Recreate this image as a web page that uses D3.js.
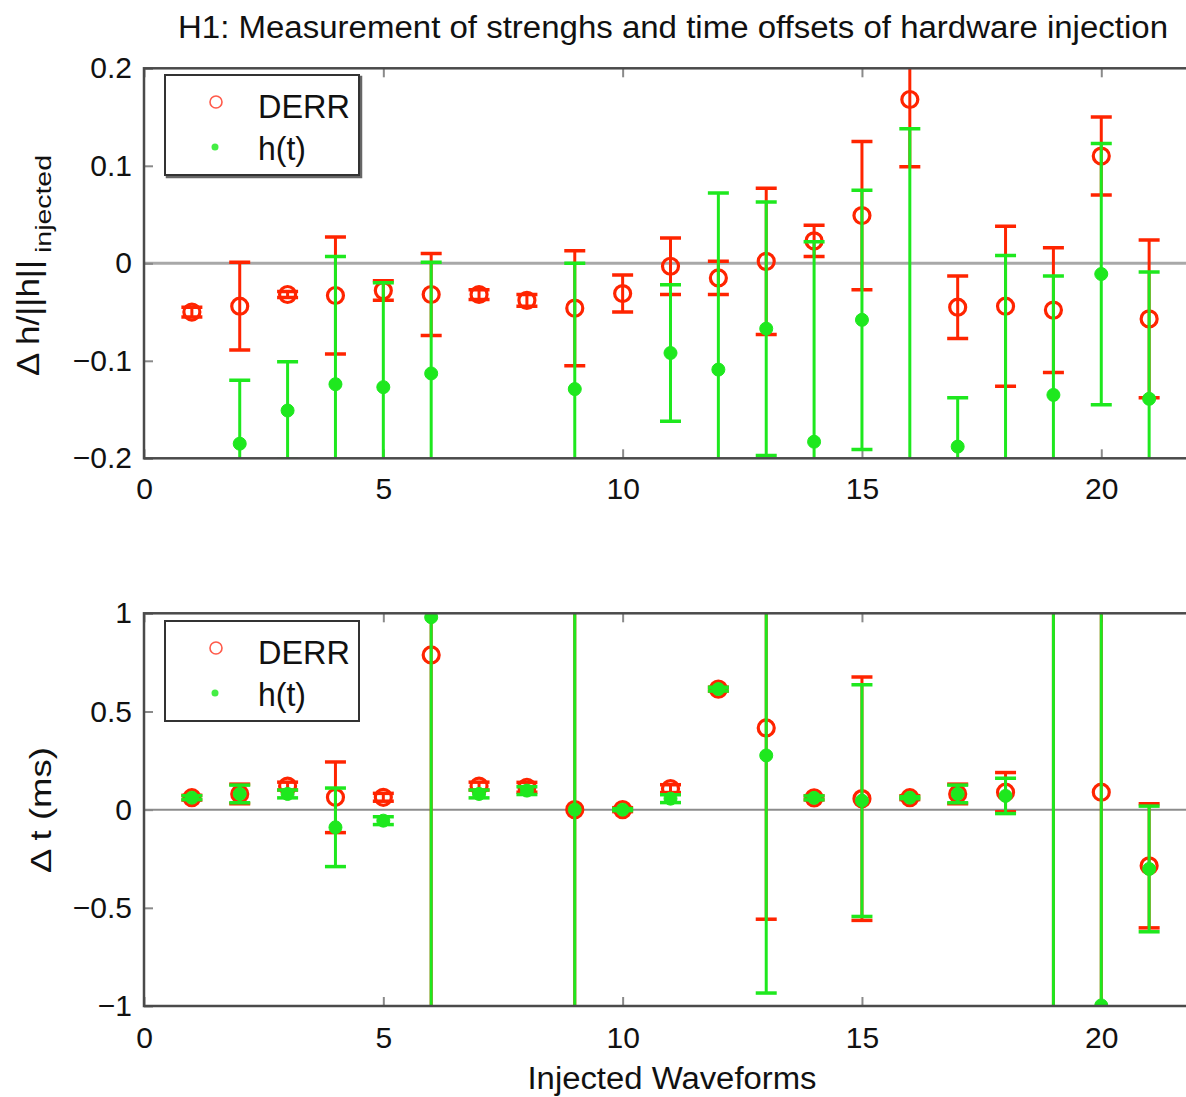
<!DOCTYPE html>
<html>
<head>
<meta charset="utf-8">
<script src="https://cdn.jsdelivr.net/npm/d3@7"></script>
<style>
  body { margin: 0; background: #fff; }
  text { font-family: 'Liberation Sans', Arial, sans-serif; fill: #111; }
</style>
</head>
<body>
<div id="chart"></div>
<script>
// injection index on the x axis
const waveforms = [1, 2, 3, 4, 5, 6, 7, 8, 9, 10, 11, 12, 13, 14, 15, 16, 17, 18, 19, 20, 21];

// top panel: relative strength  Δh/||h||
const derrStrength    = [-0.050, -0.044, -0.032, -0.033, -0.028, -0.032, -0.032, -0.038, -0.046, -0.031, -0.003, -0.015, 0.002, 0.023, 0.049, 0.168, -0.045, -0.044, -0.048, 0.110, -0.057];
const derrStrengthErr = [0.005, 0.045, 0.003, 0.060, 0.010, 0.042, 0.005, 0.006, 0.059, 0.019, 0.029, 0.017, 0.075, 0.016, 0.076, 0.069, 0.032, 0.082, 0.064, 0.040, 0.081];
const htStrength      = [null, -0.185, -0.151, -0.124, -0.127, -0.113, null, null, -0.129, null, -0.092, -0.109, -0.067, -0.183, -0.058, -0.230, -0.188, -0.220, -0.135, -0.011, -0.139];
const htStrengthErr   = [null, 0.065, 0.050, 0.131, 0.107, 0.114, null, null, 0.129, null, 0.070, 0.181, 0.130, 0.205, 0.133, 0.368, 0.050, 0.228, 0.122, 0.134, 0.130];

// bottom panel: time offset Δt (ms)
const derrOffset    = [0.061, 0.080, 0.120, 0.063, 0.063, 0.788, 0.120, 0.114, 0.000, 0.000, 0.107, 0.614, 0.416, 0.060, 0.056, 0.061, 0.080, 0.089, 1.400, 0.089, -0.286];
const derrOffsetErr = [0.012, 0.050, 0.020, 0.180, 0.020, 3.000, 0.020, 0.025, 3.000, 0.010, 0.020, 0.010, 0.974, 0.010, 0.620, 0.010, 0.050, 0.100, 3.000, 3.000, 0.316];
const htOffset      = [0.061, 0.080, 0.080, -0.090, -0.056, 0.980, 0.080, 0.097, 0.000, 0.000, 0.056, 0.614, 0.276, 0.060, 0.046, 0.061, 0.080, 0.070, 1.400, -0.997, -0.302];
const htOffsetErr   = [0.010, 0.045, 0.020, 0.200, 0.020, 3.000, 0.020, 0.020, 3.000, 0.005, 0.020, 0.010, 1.210, 0.010, 0.590, 0.005, 0.045, 0.090, 3.000, 3.000, 0.320];

const waveformTicks = [0, 5, 10, 15, 20];
const strengthTicks = [-0.2, -0.1, 0, 0.1, 0.2];
const offsetTicks   = [-1, -0.5, 0, 0.5, 1];
const seriesNames   = ['DERR', 'h(t)'];

const RED = '#ff2400';
const GREEN = '#1ee81e';
const W = 1186, H = 1097;

const svg = d3.select('#chart').append('svg')
  .attr('width', W)
  .attr('height', H);

svg.append('rect').attr('width', W).attr('height', H).attr('fill', '#fff');

// x runs past the right edge of the picture, like the original crop
const x = d3.scaleLinear().domain([0, 22]).range([144, 1197]);

svg.append('text')
  .attr('x', 178).attr('y', 38)
  .attr('font-size', 31)
  .attr('textLength', 990)
  .attr('lengthAdjust', 'spacingAndGlyphs')
  .text('H1: Measurement of strenghs and time offsets of hardware injection');

function drawPanel(cfg) {
  const y = d3.scaleLinear().domain(cfg.domain).range([cfg.bottom, cfg.top]);
  const g = svg.append('g');
  const clipId = 'clip-' + cfg.id;

  g.append('clipPath').attr('id', clipId)
    .append('rect')
      .attr('x', x(0)).attr('y', cfg.top)
      .attr('width', x(22) - x(0)).attr('height', cfg.bottom - cfg.top);

  // zero line
  g.append('line')
    .attr('x1', x(0)).attr('x2', x(22))
    .attr('y1', y(0)).attr('y2', y(0))
    .attr('stroke', cfg.zeroColor).attr('stroke-width', cfg.zeroWidth);

  // axes with inward ticks
  const left = g.append('g').attr('transform', `translate(${x(0)},0)`)
    .call(d3.axisLeft(y).tickValues(cfg.ticks).tickSizeInner(-9).tickSizeOuter(0).tickPadding(12)
      .tickFormat(d => d3.format('')(d).replace('-', '\u2212')));
  const right = g.append('g').attr('transform', `translate(${x(22)},0)`)
    .call(d3.axisRight(y).tickValues(cfg.ticks).tickSizeInner(-9).tickSizeOuter(0).tickFormat(''));
  const bottom = g.append('g').attr('transform', `translate(0,${cfg.bottom})`)
    .call(d3.axisBottom(x).tickValues(waveformTicks).tickSizeInner(-9).tickSizeOuter(0).tickPadding(cfg.xPad));
  const topAx = g.append('g').attr('transform', `translate(0,${cfg.top})`)
    .call(d3.axisTop(x).tickValues(waveformTicks).tickSizeInner(-9).tickSizeOuter(0).tickFormat(''));

  [left, right, bottom, topAx].forEach(a => {
    a.select('.domain').remove();
    a.selectAll('.tick line').attr('stroke', '#8a8a8a').attr('stroke-width', 2);
    a.selectAll('.tick text')
      .attr('font-family', "'Liberation Sans', Arial, sans-serif")
      .attr('font-size', 30).attr('fill', '#111');
  });

  const plot = g.append('g').attr('clip-path', `url(#${clipId})`);

  function errorSeries(vals, errs, color, filled) {
    const pts = waveforms.map((w, i) => ({ w, v: vals[i], e: errs[i] }))
      .filter(d => d.v !== null);
    const s = plot.append('g');
    s.selectAll('line.bar').data(pts).enter().append('line')
      .attr('x1', d => x(d.w)).attr('x2', d => x(d.w))
      .attr('y1', d => y(d.v - d.e)).attr('y2', d => y(d.v + d.e))
      .attr('stroke', color).attr('stroke-width', 3);
    ['lo', 'hi'].forEach(k => {
      s.selectAll('line.cap-' + k).data(pts).enter().append('line')
        .attr('x1', d => x(d.w) - 10.5).attr('x2', d => x(d.w) + 10.5)
        .attr('y1', d => y(k === 'lo' ? d.v - d.e : d.v + d.e))
        .attr('y2', d => y(k === 'lo' ? d.v - d.e : d.v + d.e))
        .attr('stroke', color).attr('stroke-width', 3.5);
    });
    s.selectAll('circle').data(pts).enter().append('circle')
      .attr('cx', d => x(d.w)).attr('cy', d => y(d.v))
      .attr('r', filled ? 6.5 : 8)
      .attr('fill', filled ? color : 'none')
      .attr('stroke', color).attr('stroke-width', filled ? 1 : 3.2);
  }

  errorSeries(cfg.red, cfg.redErr, RED, false);
  errorSeries(cfg.green, cfg.greenErr, GREEN, true);

  // frame
  g.append('rect')
    .attr('x', x(0)).attr('y', cfg.top)
    .attr('width', x(22) - x(0)).attr('height', cfg.bottom - cfg.top)
    .attr('fill', 'none').attr('stroke', '#4a4a4a').attr('stroke-width', 2.5);

  // legend
  const lg = g.append('g').attr('transform', `translate(165,${cfg.legendTop})`);
  if (cfg.shadow) {
    lg.append('rect').attr('x', 2).attr('y', 2).attr('width', 194).attr('height', 100)
      .attr('fill', 'none').attr('stroke', '#666').attr('stroke-width', 2.5);
  }
  lg.append('rect').attr('width', 194).attr('height', 100)
    .attr('fill', '#fff').attr('stroke', '#333').attr('stroke-width', 2);
  lg.append('circle').attr('cx', 51).attr('cy', 27).attr('r', 6)
    .attr('fill', 'none').attr('stroke', '#ff5a4a').attr('stroke-width', 1.6);
  lg.append('circle').attr('cx', 50).attr('cy', 72).attr('r', 3.5).attr('fill', '#44ee44');
  lg.append('text').attr('x', 93).attr('y', 43).attr('font-size', 33)
    .attr('textLength', 92).attr('lengthAdjust', 'spacingAndGlyphs').text(seriesNames[0]);
  lg.append('text').attr('x', 93).attr('y', 85).attr('font-size', 33)
    .attr('textLength', 48).attr('lengthAdjust', 'spacingAndGlyphs').text(seriesNames[1]);

  return y;
}

drawPanel({
  id: 'strength', top: 68.3, bottom: 458.3, domain: [-0.2, 0.2], ticks: strengthTicks,
  red: derrStrength, redErr: derrStrengthErr, green: htStrength, greenErr: htStrengthErr,
  zeroColor: '#a8a8a8', zeroWidth: 3, xPad: 19, legendTop: 75, shadow: true
});

drawPanel({
  id: 'offset', top: 613.3, bottom: 1006, domain: [-1, 1], ticks: offsetTicks,
  red: derrOffset, redErr: derrOffsetErr, green: htOffset, greenErr: htOffsetErr,
  zeroColor: '#8c8c8c', zeroWidth: 2, xPad: 21, legendTop: 621, shadow: false
});

// y labels (top one has a subscript, placed as its own piece)
svg.append('text')
  .attr('transform', 'translate(39,376) rotate(-90)')
  .attr('font-size', 31)
  .attr('textLength', 116).attr('lengthAdjust', 'spacingAndGlyphs')
  .text('\u0394 h/||h||');
svg.append('text')
  .attr('transform', 'translate(51,253) rotate(-90)')
  .attr('font-size', 22)
  .attr('textLength', 98).attr('lengthAdjust', 'spacingAndGlyphs')
  .text('injected');

svg.append('text')
  .attr('transform', 'translate(51,810) rotate(-90)')
  .attr('text-anchor', 'middle')
  .attr('font-size', 30)
  .attr('textLength', 126).attr('lengthAdjust', 'spacingAndGlyphs')
  .text('\u0394 t (ms)');

svg.append('text')
  .attr('x', 672).attr('y', 1089)
  .attr('text-anchor', 'middle')
  .attr('font-size', 31)
  .attr('textLength', 289).attr('lengthAdjust', 'spacingAndGlyphs')
  .text('Injected Waveforms');
</script>
</body>
</html>
